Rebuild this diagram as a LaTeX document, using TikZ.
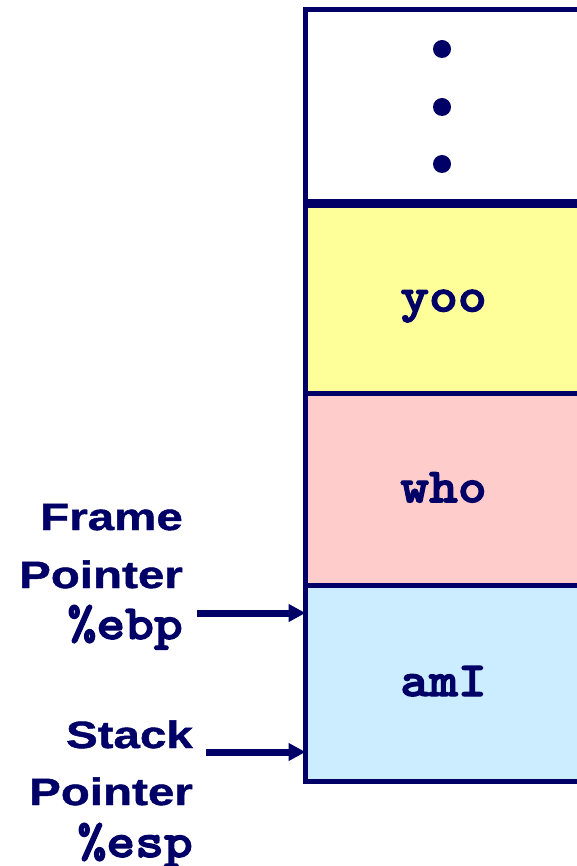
\documentclass[tikz,border=0pt]{standalone}
\usepackage{fontspec}
\setmainfont{Liberation Sans}
\newfontfamily\lblfont[FakeStretch=1.25,BoldFeatures={FakeBold=1.2}]{Liberation Sans}
\newfontfamily\cellfont[Extension=.otf,FakeStretch=1.12,FakeBold=2.5]{lmmonolt10-bold}
\usetikzlibrary{arrows.meta,positioning}
\definecolor{stacknavy}{RGB}{0,0,102}
\definecolor{yoocol}{RGB}{255,255,153}
\definecolor{whocol}{RGB}{255,204,204}
\definecolor{amicol}{RGB}{204,236,255}
\tikzset{
    cell/.style={
        rectangle,
        draw=stacknavy,
        line width=5pt,
        minimum width=276pt,
        outer sep=0pt,
        inner sep=0pt,
        text height=26pt,
        text depth=0pt,
        text=stacknavy,
        font=\cellfont\fontsize{49}{52}\selectfont,
    },
    stackdot/.style={
        circle,
        fill=stacknavy,
        minimum size=18pt,
        inner sep=0pt,
    },
    ptrlabel/.style={
        anchor=base east,
        inner sep=0pt,
        text=stacknavy,
        font=\lblfont\bfseries\fontsize{38}{40}\selectfont,
    },
    reglabel/.style={
        anchor=base east,
        inner sep=0pt,
        text=stacknavy,
        font=\cellfont\fontsize{49}{52}\selectfont,
    },
    ptr/.style={
        -{Triangle[length=17pt,width=17pt]},
        draw=stacknavy,
        line width=7pt,
    },
}
\begin{document}
\begin{tikzpicture}[x=1pt,y=-1pt]
    \useasboundingbox (0,0) rectangle (576,866);
    % stack cells
    \node [cell, minimum height=194pt, fill=white] (top) at (443.5,106.5) {};
    \node [cell, minimum height=190pt, fill=yoocol, below=0pt of top] (yoo) {yoo};
    \node [cell, minimum height=191.5pt, fill=whocol, below=0pt of yoo] (who) {who};
    \node [cell, minimum height=196pt, fill=amicol, below=0pt of who] (amI) {amI};
    \draw [stacknavy, line width=9pt] ([xshift=-2.5pt]top.south west) -- (top.south east);
    \node [stackdot] (dot1) at (442,49) {};
    \node [stackdot] (dot2) at (442,107) {};
    \node [stackdot] (dot3) at (442,164) {};
    % pointer labels
    \node [ptrlabel] (frame) at (183,530) {Frame};
    \node [ptrlabel] (framept) at (183,588) {Pointer};
    \node [reglabel] (ebp) at (183,639) {\%ebp};
    \node [ptrlabel] (stack) at (193,748) {Stack};
    \node [ptrlabel] (stackpt) at (193,805) {Pointer};
    \node [reglabel] (esp) at (193,857) {\%esp};
    \coordinate (ebpfrom) at (197,613);
    \coordinate (espfrom) at (206,752);
    \draw [ptr] (ebpfrom) -- (ebpfrom -| amI.west);
    \draw [ptr] (espfrom) -- (espfrom -| amI.west);
\end{tikzpicture}
\end{document}
